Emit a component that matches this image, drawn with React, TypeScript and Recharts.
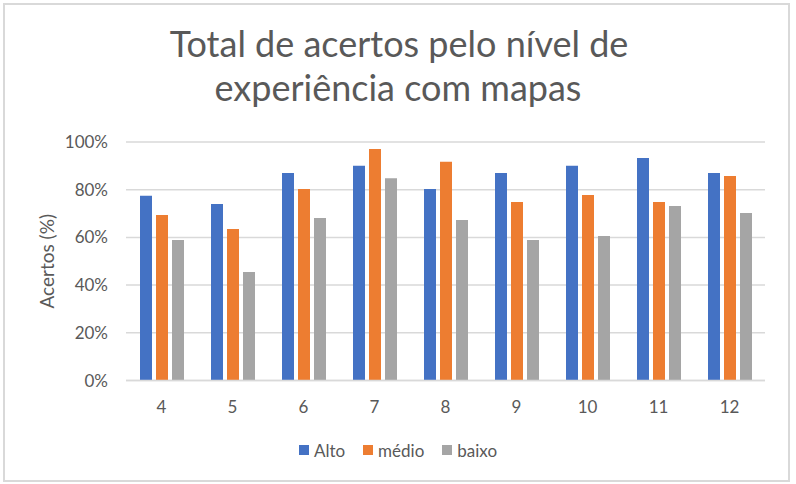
import React from 'react';
import { BarChart, Bar, XAxis, YAxis, CartesianGrid, Legend } from 'recharts';

const categories = ['4', '5', '6', '7', '8', '9', '10', '11', '12'];
const alto = [77.5, 74, 87, 90, 80.3, 87, 90, 93.3, 87];
const medio = [69.4, 63.5, 80.3, 97.1, 91.7, 74.8, 77.8, 74.8, 85.7];
const baixo = [58.9, 45.5, 68.1, 84.8, 67.3, 58.9, 60.6, 73.2, 70.2];
const yTicks = [0, 20, 40, 60, 80, 100];

const seriesNames = ['Alto', 'médio', 'baixo'];
const seriesColors = ['#4472C4', '#ED7D31', '#A5A5A5'];

const data = categories.map((c, i) => ({ cat: c, Alto: alto[i], 'médio': medio[i], baixo: baixo[i] }));

const FONT = 'Lato, "Open Sans", sans-serif';
const TEXT = '#595959';

const YLabel = (props: any) => {
  const vb = props.viewBox || {};
  const cx = vb.x + 20;
  const cy = vb.y + vb.height / 2;
  return (
    <text x={cx} y={cy} transform={`rotate(-90, ${cx}, ${cy})`} textAnchor="middle" dominantBaseline="central"
      fill={TEXT} fontSize={19} fontFamily={FONT}>
      Acertos (%)
    </text>
  );
};

const LegendContent = () => (
  <div style={{ display: 'flex', justifyContent: 'center', alignItems: 'center', height: 24, fontFamily: FONT, fontSize: 17, color: TEXT }}>
    {seriesNames.map((n, i) => (
      <div key={n} style={{ display: 'flex', alignItems: 'center', marginRight: i < 2 ? 18 : 0 }}>
        <span style={{ display: 'inline-block', width: 10, height: 10, background: seriesColors[i], marginRight: 5 }} />
        <span>{n}</span>
      </div>
    ))}
  </div>
);

export default function App() {
  return (
    <div style={{ position: 'absolute', left: 0, top: 0, width: 796, height: 484, background: '#fff', fontFamily: FONT }}>
      <div style={{ position: 'absolute', left: 3, top: 3, width: 787, height: 479, border: '2px solid #d9d9d9', boxSizing: 'border-box' }} />
      <div style={{ position: 'absolute', left: 0, top: 21, width: 796, textAlign: 'center', fontSize: 36, lineHeight: '44px', color: TEXT, fontFamily: FONT }}>
        <div style={{ paddingLeft: 2 }}>Total de acertos pelo nível de</div>
        <div>experiência com mapas</div>
      </div>
      <div style={{ position: 'absolute', left: 0, top: 0 }}>
        <BarChart width={796} height={484} data={data} margin={{ top: 142, right: 31, left: 26, bottom: 49.5 }} barGap={4}>
          <CartesianGrid vertical={false} stroke="#d9d9d9" strokeWidth={1.5} />
          <XAxis dataKey="cat" height={30} tickSize={0} tickMargin={20} axisLine={{ stroke: '#d9d9d9', strokeWidth: 1.5 }}
            tickLine={false} tick={{ fill: TEXT, fontSize: 17, fontFamily: FONT }} />
          <YAxis width={100} domain={[0, 100]} ticks={yTicks} tickFormatter={(v: number) => `${v}%`} tickSize={0} tickMargin={18}
            axisLine={false} tickLine={false} tick={{ fill: TEXT, fontSize: 17, fontFamily: FONT }} label={<YLabel />} />
          <Legend verticalAlign="bottom" content={<LegendContent />}
            wrapperStyle={{ top: 438, left: 0, width: 796, height: 24, bottom: 'auto' }} />
          {seriesNames.map((n, i) => (
            <Bar key={n} dataKey={n} fill={seriesColors[i]} barSize={12} isAnimationActive={false} />
          ))}
        </BarChart>
      </div>
    </div>
  );
}
